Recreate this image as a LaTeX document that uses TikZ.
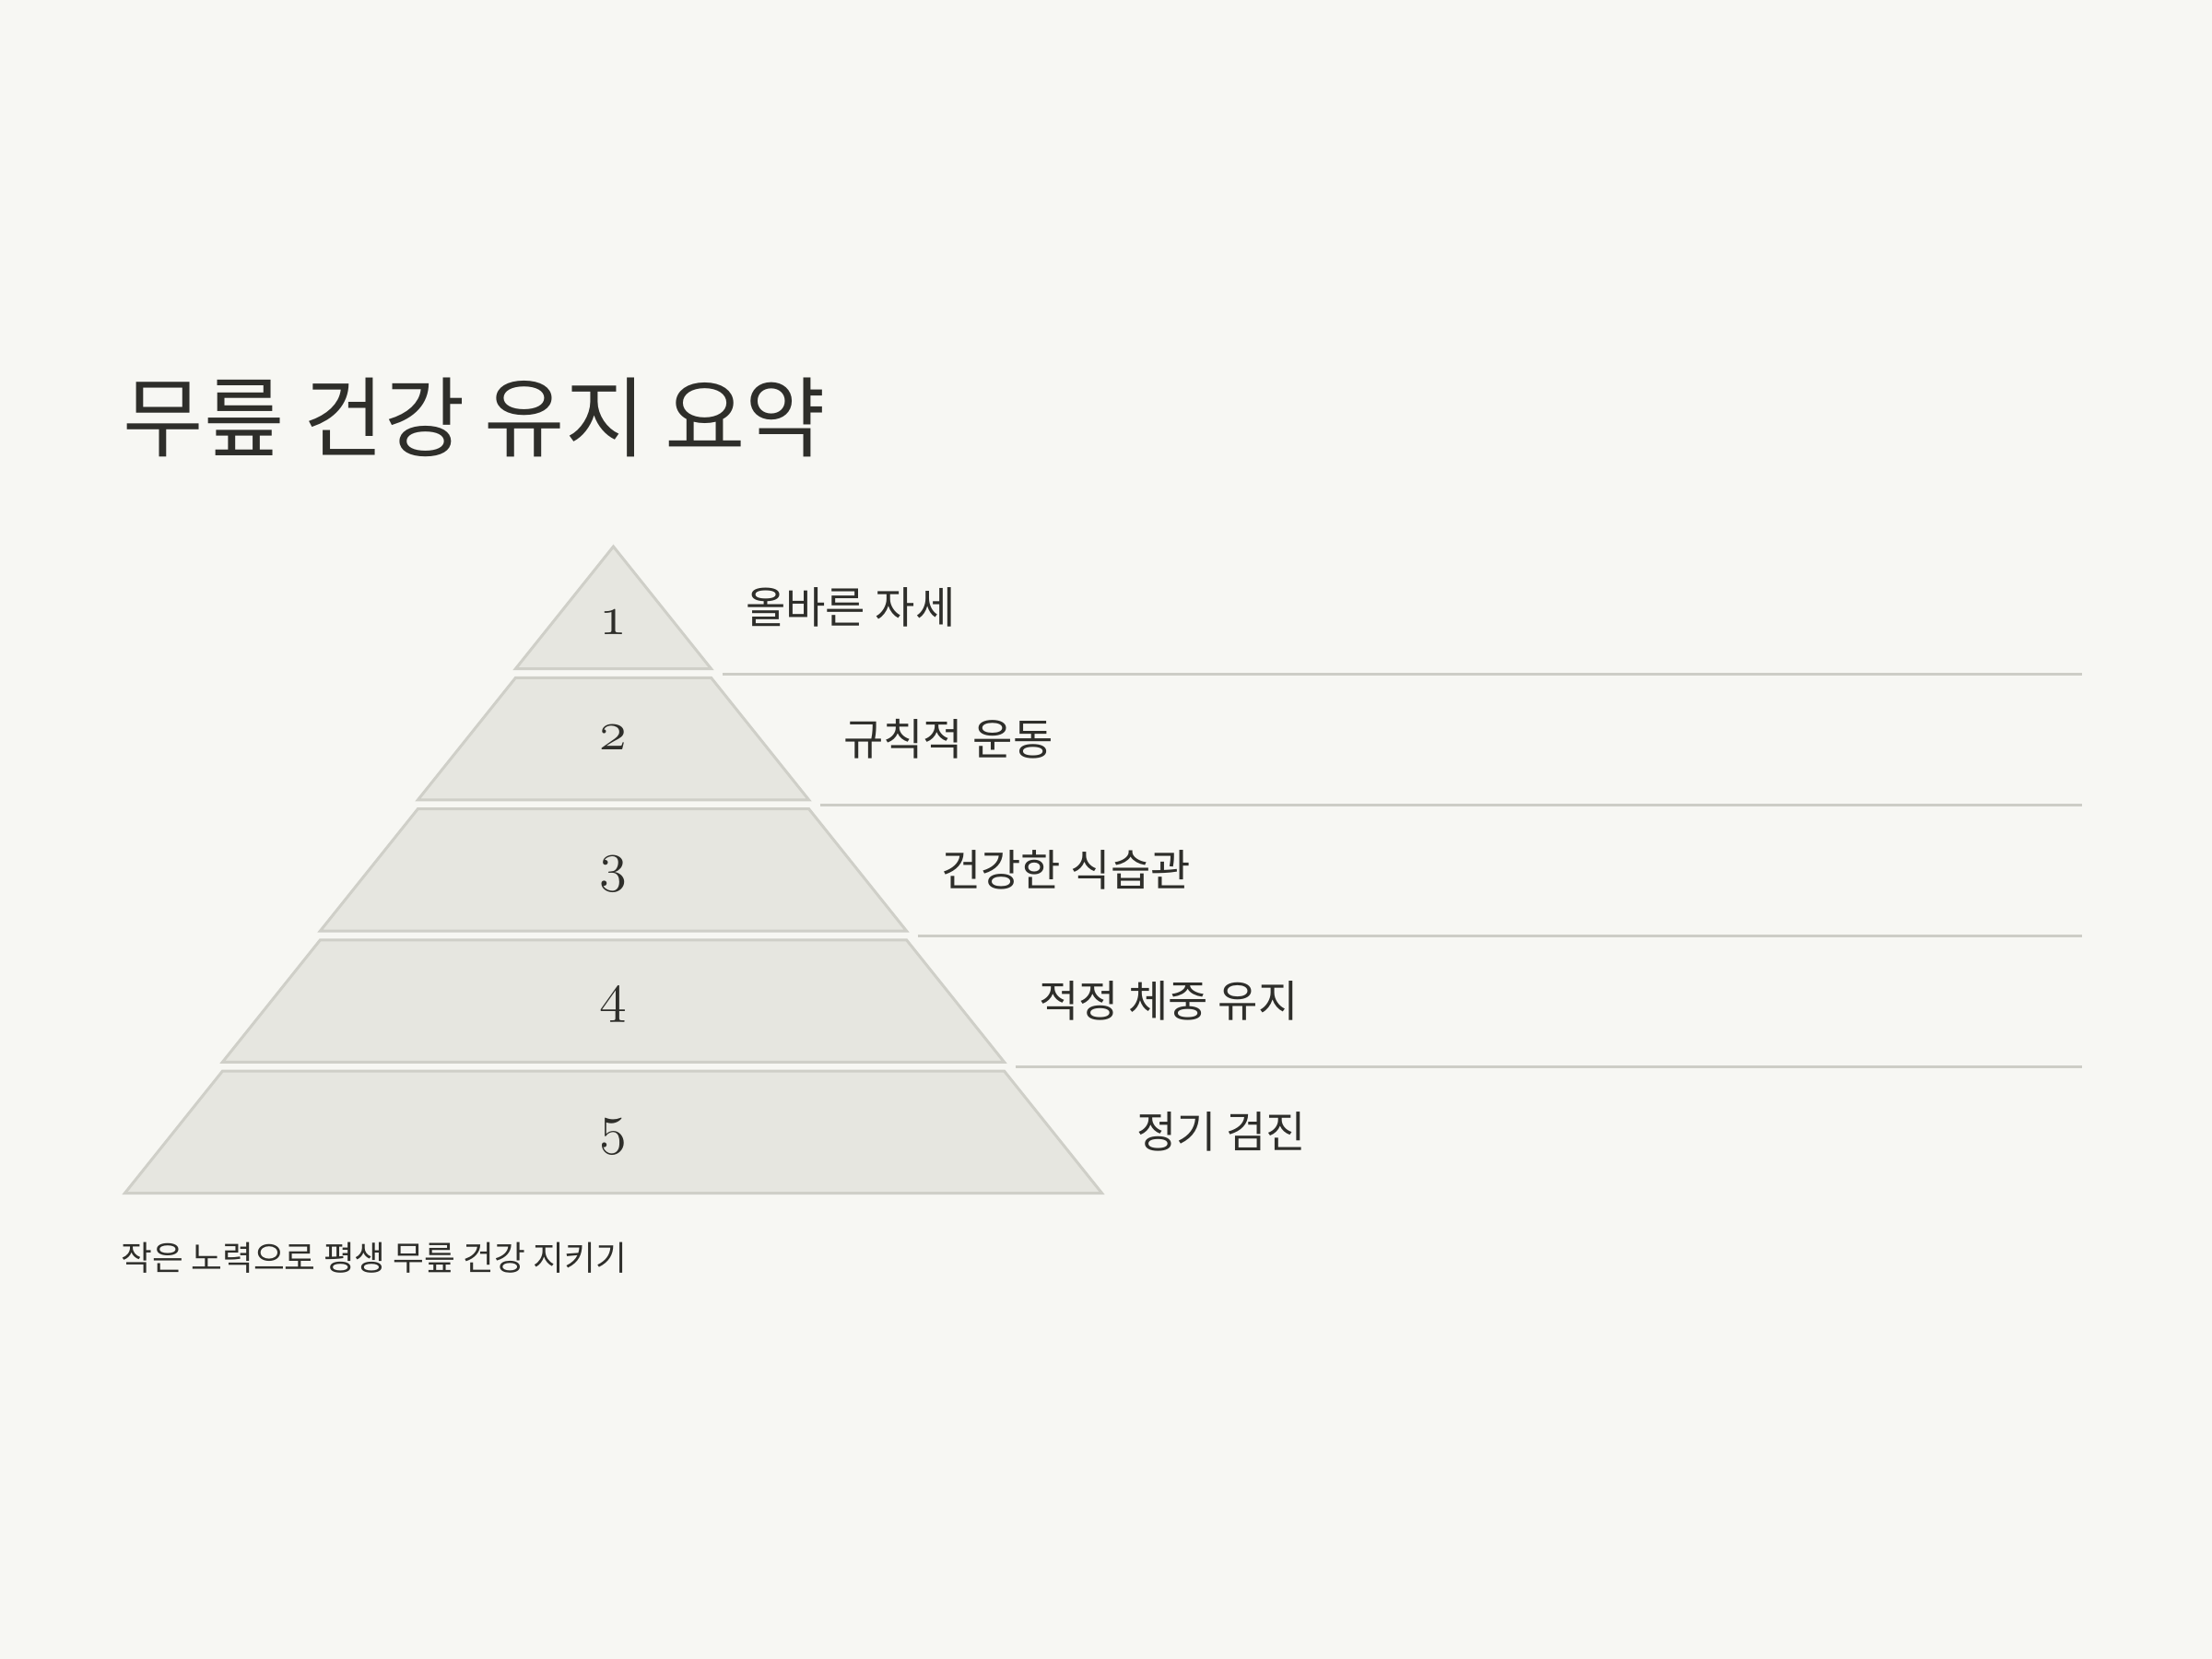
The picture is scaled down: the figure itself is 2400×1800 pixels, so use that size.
\documentclass[tikz,border=0pt]{standalone}
\usepackage{fontspec}
\newfontfamily\krfont{Noto Sans CJK KR}
% old style figures from the math italic font
\newcommand\osnum[1]{{\fontencoding{OML}\fontfamily{cmm}\fontseries{m}\fontshape{it}\selectfont #1}}

\definecolor{bgcol}{HTML}{F7F7F3}
\definecolor{layerfill}{HTML}{E6E6E0}
\definecolor{layeredge}{HTML}{CFCFC8}
\definecolor{rulecol}{HTML}{CDCDC6}
\definecolor{textcol}{HTML}{2E2E2A}

\tikzset{
  layer/.style={fill=layerfill, draw=layeredge, line width=0.85pt, line join=miter},
  rule/.style={draw=rulecol, line width=0.85pt},
  title/.style={anchor=west, inner sep=0pt, text=textcol, font=\krfont\fontsize{27}{32}\selectfont},
  steplabel/.style={anchor=west, inner sep=0pt, text=textcol, font=\krfont\fontsize{13.4}{16}\selectfont},
  stepnum/.style={anchor=base, inner sep=0pt, text=textcol, font=\fontsize{16.8}{20}\selectfont},
  footer/.style={anchor=west, inner sep=0pt, text=textcol, font=\krfont\fontsize{10.45}{12}\selectfont}
}

\begin{document}
\begin{tikzpicture}[x=0.01cm, y=-0.01cm]
  % Background
  \fill[bgcol] (0,0) rectangle (2400,1800);
  \useasboundingbox (0,0) rectangle (2400,1800);

  % Title
  \node[title] (title) at (133,453) {무릎 건강 유지 요약};

  % Pyramid layers with their labels
  \def\cx{665.5}
  \foreach \i/\txt in {1/올바른 자세, 2/규칙적 운동, 3/건강한 식습관, 4/적정 체중 유지, 5/정기 검진} {
    \pgfmathsetmacro\ytop{593+142.25*(\i-1)}
    \pgfmathsetmacro\ybot{\ytop+132.5}
    \pgfmathsetmacro\wtop{106*(\i-1)}
    \pgfmathsetmacro\wbot{106*\i}
    \coordinate (tl\i) at (\cx-\wtop,\ytop);
    \coordinate (tr\i) at (\cx+\wtop,\ytop);
    \coordinate (bl\i) at (\cx-\wbot,\ybot);
    \coordinate (br\i) at (\cx+\wbot,\ybot);
    \coordinate (rs\i) at (\cx+\wbot+12,\ybot+5.5);
    \draw[layer] (tl\i) -- (tr\i) -- (br\i) -- (bl\i) -- cycle;
    \node[steplabel] (lab\i) at (\cx+\wbot+37,\ytop+66) {\txt};
  }

  % Numbers
  \node[stepnum] (num1) at (\cx,688) {\osnum{1}};
  \foreach \i in {2,...,5} {
    \pgfmathsetmacro\ynum{593+142.25*(\i-1)+78}
    \node[stepnum] (num\i) at (\cx,\ynum) {\osnum{\i}};
  }

  % Separator lines
  \foreach \i in {1,...,4} {
    \coordinate (re\i) at (2259,0 |- rs\i);
    \draw[rule] (rs\i) -- (re\i);
  }

  % Footer
  \node[footer] (foot) at (131,1365) {작은 노력으로 평생 무릎 건강 지키기};
\end{tikzpicture}
\end{document}
